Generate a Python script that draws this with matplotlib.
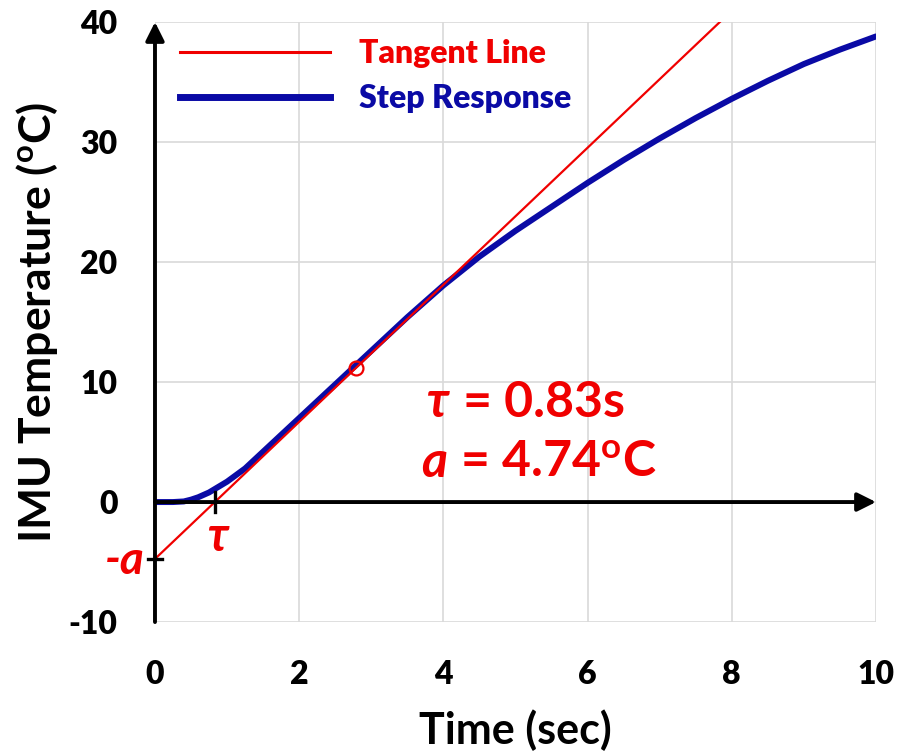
import matplotlib
matplotlib.use("Agg")
import matplotlib.pyplot as plt
from matplotlib.lines import Line2D

plt.rcParams['font.family'] = ['Lato', 'DejaVu Sans']
plt.rcParams['font.weight'] = 'bold'
plt.rcParams['axes.labelweight'] = 'bold'
plt.rcParams['axes.unicode_minus'] = False

# measured step response of the IMU temperature
time_s = [0.0, 0.25, 0.4, 0.5, 0.6, 0.75, 1.0, 1.25, 1.5, 1.75, 2.0, 2.5, 3.0,
          3.5, 4.0, 4.5, 5.0, 5.5, 6.0, 6.5, 7.0, 7.5, 8.0, 8.5, 9.0, 9.5, 10.0]
temp_c = [0.0, 0.0, 0.05, 0.2, 0.4, 0.8, 1.7, 2.8, 4.2, 5.6, 7.0, 9.8, 12.6,
          15.4, 18.05, 20.45, 22.6, 24.6, 26.6, 28.5, 30.3, 32.0, 33.6, 35.1, 36.5, 37.7, 38.8]

# tangent line parameters
tau = 0.83
a = 4.74
t_tangent = 2.79

x_ticks = [0, 2, 4, 6, 8, 10]
y_ticks = [-10, 0, 10, 20, 30, 40]

RED = '#f00000'
BLUE = '#0a0aa5'

fig = plt.figure(figsize=(8.99, 7.54), dpi=100)
ax = fig.add_axes([0.1724, 0.175, 0.802, 0.7958])

ax.set_xlim(0, 10)
ax.set_ylim(-10, 40)
ax.set_xticks(x_ticks, labels=[str(v) for v in x_ticks], fontsize=23, fontweight='heavy')
ax.set_yticks(y_ticks, labels=[str(v) for v in y_ticks], fontsize=23, fontweight='heavy')
ax.grid(True, color='#d9d9d9', lw=1.2)
ax.set_axisbelow(True)
for s in ax.spines.values():
    s.set_visible(False)
ax.tick_params(length=0)
ax.tick_params(axis='x', pad=27)
ax.tick_params(axis='y', pad=27)

# step response and tangent
ax.plot(time_s, temp_c, color=BLUE, lw=4.3, solid_capstyle='round', zorder=3)
t_end = tau * (40 / a + 1) + 0.2
ax.plot([0, t_end], [-a, a * (t_end / tau - 1)], color=RED, lw=1.6, zorder=4)
ax.plot([t_tangent], [a * (t_tangent / tau - 1)], 'o', mfc='none', mec=RED,
        ms=10, mew=1.6, zorder=5)

# axes with arrows
arrow = dict(arrowstyle='-|>', color='k', lw=2.8, mutation_scale=28,
             shrinkA=0, shrinkB=0)
ax.annotate('', xy=(0, 1.0), xytext=(0, 0), xycoords='axes fraction',
            arrowprops=arrow, zorder=6)
ax.annotate('', xy=(10, 0), xytext=(0, 0), xycoords='data',
            arrowprops=arrow, zorder=6)

# small markers for tau and -a
ax.plot([tau, tau], [-0.8, 0.8], color='k', lw=2.4, zorder=6)
ax.plot([-0.1, 0.1], [-a, -a], color='k', lw=2.4, zorder=6, clip_on=False)

ax.text(tau + 0.03, -1.1, 'τ', color=RED, fontsize=34, fontstyle='italic',
        ha='center', va='top')
ax.text(-0.15, -4.9, '-a', color=RED, fontsize=33, fontstyle='italic',
        ha='right', va='center')

ax.text(4.08, 7.1, 'τ', color=RED, fontsize=36, fontstyle='italic',
        ha='right', va='baseline')
ax.text(4.1, 7.1, ' = 0.83s', color=RED, fontsize=36, ha='left', va='baseline')
ax.text(4.05, 2.1, 'a', color=RED, fontsize=36, fontstyle='italic',
        ha='right', va='baseline')
ax.text(4.07, 2.1, r' = 4.74$\mathregular{^o}$C', color=RED, fontsize=36,
        ha='left', va='baseline')

ax.set_xlabel('Time (sec)', fontsize=31, labelpad=15)
ax.set_ylabel(r'IMU Temperature ($\mathregular{^o}$C)', fontsize=32, labelpad=6)

handles = [Line2D([], [], color=RED, lw=2.2), Line2D([], [], color=BLUE, lw=5)]
leg = ax.legend(handles, ['Tangent Line', 'Step Response'], loc='upper left',
                bbox_to_anchor=(0.035, 0.972), frameon=False,
                prop={'size': 23, 'weight': 'heavy'},
                handlelength=4.7, handletextpad=0.9, labelspacing=0.52,
                borderpad=0, borderaxespad=0)
for txt, c in zip(leg.get_texts(), [RED, BLUE]):
    txt.set_color(c)

fig.savefig('out.png', dpi=100)
